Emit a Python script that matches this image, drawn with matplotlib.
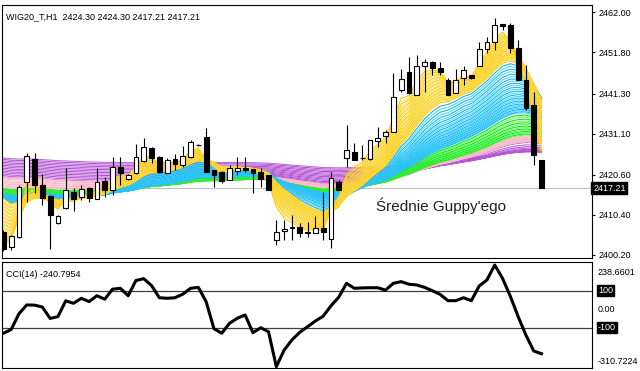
import numpy as np
import matplotlib.pyplot as plt
from matplotlib import font_manager

# WIG20_T H1 candles
opens = [2406.1, 2402.2, 2404.9, 2418.7, 2424.6, 2418.0, 2415.2, 2408.3, 2412.1, 2416.3,
         2414.9, 2417.2, 2414.5, 2419.0, 2416.8, 2422.7, 2419.5, 2421.2, 2424.2, 2427.5,
         2425.2, 2421.0, 2424.6, 2423.1, 2425.2, 2428.3, 2430.3, 2421.8, 2421.4, 2419.3,
         2421.7, 2422.4, 2422.0, 2421.4, 2420.6, 2404.0, 2406.4, 2407.1, 2407.3, 2406.0,
         2405.9, 2407.0, 2404.2, 2418.9, 2424.8, 2426.3, 2424.8, 2424.6, 2429.1, 2430.6,
         2431.6, 2442.2, 2446.9, 2440.9, 2448.2, 2449.4, 2447.7, 2444.8, 2441.5, 2445.2,
         2446.0, 2448.3, 2452.6, 2454.5, 2459.0, 2458.8, 2452.8, 2444.8, 2438.4, 2424.30]
highs = [2406.6, 2405.3, 2418.0, 2426.1, 2426.1, 2420.8, 2415.5, 2410.5, 2422.3, 2417.2,
         2418.0, 2417.4, 2422.4, 2420.1, 2425.1, 2425.1, 2420.8, 2428.5, 2429.9, 2427.6,
         2425.3, 2424.8, 2425.8, 2428.0, 2429.5, 2428.4, 2432.5, 2421.9, 2421.5, 2423.1,
         2425.2, 2425.2, 2422.1, 2422.3, 2420.6, 2409.1, 2409.1, 2410.4, 2408.3, 2408.7,
         2410.0, 2416.3, 2421.4, 2419.3, 2433.3, 2428.6, 2428.2, 2429.6, 2432.9, 2432.0,
         2446.5, 2447.5, 2450.7, 2451.1, 2450.0, 2449.5, 2449.4, 2445.3, 2447.5, 2448.2,
         2446.1, 2454.5, 2455.8, 2460.5, 2459.1, 2459.2, 2455.0, 2448.6, 2441.8, 2424.30]
lows = [2401.3, 2401.5, 2404.6, 2413.8, 2415.9, 2412.9, 2401.7, 2408.0, 2412.0, 2411.4,
        2414.2, 2413.8, 2414.4, 2415.0, 2415.5, 2418.0, 2419.3, 2420.8, 2424.0, 2423.7,
        2421.1, 2421.0, 2421.8, 2422.7, 2425.0, 2428.0, 2421.4, 2417.6, 2418.5, 2419.2,
        2420.6, 2421.4, 2415.9, 2417.6, 2416.7, 2402.7, 2404.0, 2404.0, 2404.9, 2404.9,
        2405.7, 2404.0, 2401.9, 2416.7, 2422.7, 2424.3, 2424.4, 2424.5, 2427.8, 2428.6,
        2431.5, 2441.8, 2441.3, 2440.9, 2441.8, 2446.0, 2446.0, 2440.9, 2441.4, 2443.5,
        2445.1, 2448.2, 2451.6, 2452.4, 2457.5, 2451.6, 2444.7, 2437.1, 2423.1, 2417.21]
closes = [2401.7, 2405.0, 2417.4, 2425.5, 2418.0, 2414.8, 2410.4, 2410.2, 2416.8, 2414.5,
          2417.0, 2414.8, 2418.7, 2416.8, 2422.7, 2421.0, 2420.6, 2425.1, 2427.8, 2425.0,
          2421.3, 2424.4, 2423.4, 2425.4, 2429.0, 2428.1, 2421.4, 2420.6, 2419.0, 2422.3,
          2422.4, 2421.8, 2421.2, 2419.6, 2416.8, 2406.1, 2406.7, 2407.2, 2405.9, 2405.8,
          2407.0, 2406.1, 2419.9, 2416.8, 2426.9, 2424.4, 2424.9, 2429.5, 2430.1, 2431.6,
          2440.4, 2445.0, 2441.4, 2448.2, 2449.4, 2447.7, 2446.7, 2440.9, 2444.8, 2447.3,
          2445.2, 2452.6, 2454.5, 2458.8, 2458.6, 2452.8, 2444.8, 2437.6, 2425.7, 2417.21]

# CCI(14)
cci = [-130, -110, -25, 23, 22, 12, -50, -40, 45, 32,
       59, 41, 73, 54, 108, 113, 73, 155, 165, 128,
       62, 59, 62, 81, 113, 118, 41, -105, -130, -76,
       -49, -31, -127, -100, -122, -310.72, -221, -166, -125, -95,
       -64, -38, 18, 65, 140, 113, 115, 116, 116, 103,
       140, 149, 135, 131, 118, 100, 80, 46, 46, 62,
       46, 125, 158, 238.66, 167, 70, -40, -140, -226, -240.80]

price_ticks = [2462.00, 2451.80, 2441.30, 2431.10, 2420.60, 2410.40, 2400.20]

# Guppy ribbons: EMA periods per colour group, EMA levels at the first bar
yellow_periods = np.arange(3, 12.1, 0.375)
blue_periods = np.arange(13, 41, 1)
green_periods = np.arange(42, 70, 2)
pink_periods = np.arange(70, 90, 2)
purple_periods = np.arange(90, 215, 9)
yellow_start = (2403.0, 2414.6)
blue_start = (2414.8, 2415.9)
green_start = (2415.9, 2417.2)
pink_start = (2417.2, 2420.0)
purple_start = (2420.1, 2424.9)


def ema(values, period, first):
    a = 2.0 / (period + 1)
    out = [first]
    for v in values[1:]:
        out.append(out[-1] + a * (v - out[-1]))
    return np.array(out)


# narrow label font, like the terminal's Tahoma
names = {f.name for f in font_manager.fontManager.ttflist}
if 'Liberation Sans Narrow' in names:
    lab_font, lab_size = 'Liberation Sans Narrow', 7.6
else:
    lab_font, lab_size = 'Liberation Sans', 6.5

fig = plt.figure(figsize=(6.4, 3.71), dpi=100)
W, H = 640, 371
ax = fig.add_axes([2 / W, (H - 258) / H, 590 / W, 253 / H])
ax2 = fig.add_axes([2 / W, (H - 368) / H, 590 / W, 106 / H])

x = np.arange(len(closes))

# ribbons, slowest first so the fast ones sit on top
groups = [(purple_periods, purple_start, ['#B04ED0', '#BE62DA']),
          (pink_periods, pink_start, ['#F8B2C2', '#FFC6D2']),
          (green_periods, green_start, ['#00E800', '#66F566']),
          (blue_periods, blue_start, ['#00B8F4', '#5AD0FF']),
          (yellow_periods, yellow_start, ['#FFC800', '#FFE46A'])]
for periods, (lo, hi), cols in groups:
    firsts = np.linspace(lo, hi, len(periods))
    for k in range(len(periods) - 1, -1, -1):
        ax.plot(x, ema(closes, periods[k], firsts[k]), color=cols[k % 2], lw=0.75, zorder=2)

ax.axhline(closes[-1], color='#C0C0C0', lw=0.8, zorder=1)

# candles
o = np.array(opens); c = np.array(closes)
up = c >= o
ax.vlines(x, lows, highs, color='black', lw=0.8, zorder=4)
ax.bar(x[up], (c - o)[up], bottom=o[up], width=0.62, color='white', edgecolor='black', lw=0.8, zorder=5)
ax.bar(x[~up], (o - c)[~up], bottom=c[~up], width=0.62, color='black', edgecolor='black', lw=0.8, zorder=5)

ax.set_xlim(-0.17, 75.47)
ax.set_ylim(2399.43, 2463.86)
ax.set_xticks([])
ax.yaxis.tick_right()
ax.set_yticks(price_ticks)
ax.set_yticklabels([f'{v:.2f}' for v in price_ticks], fontsize=lab_size, family=lab_font)
ax.tick_params(axis='y', length=2.5, width=0.8, pad=2)
ax.text(1.002, closes[-1], f'{closes[-1]:.2f}', transform=ax.get_yaxis_transform(), fontsize=lab_size,
        family=lab_font, color='white', va='center', ha='left',
        bbox=dict(boxstyle='square,pad=0.2', fc='black', ec='black'))
ax.text(47.74, 2411.48, "Średnie Guppy'ego", fontsize=11, family='Liberation Sans', color='#202020', va='baseline')
fig.text(6 / W, 1 - 19 / H, 'WIG20_T,H1  2424.30 2424.30 2417.21 2417.21', fontsize=lab_size,
         family=lab_font, va='baseline')

# CCI panel
ax2.plot(x, cci, color='black', lw=2.2, solid_joinstyle='round', zorder=3)
ax2.axhline(100, color='#404040', lw=0.9)
ax2.axhline(-100, color='#404040', lw=0.9)
ax2.set_xlim(-0.17, 75.47)
ax2.set_ylim(-317.8, 255.1)
ax2.set_xticks([])
ax2.set_yticks([])
lab = dict(transform=ax2.get_yaxis_transform(), fontsize=lab_size, family=lab_font, ha='left', va='center')
ax2.text(1.01, 200, '238.6601', **lab)
ax2.text(1.01, 0, '0.00', **lab)
ax2.text(1.01, -285, '-310.7224', **lab)
ax2.text(1.01, 100, '100', color='white', bbox=dict(boxstyle='square,pad=0.1', fc='black', ec='black'), **lab)
ax2.text(1.01, -100, '-100', color='white', bbox=dict(boxstyle='square,pad=0.1', fc='black', ec='black'), **lab)
ax2.text(0.0068, 0.86, 'CCI(14) -240.7954', transform=ax2.transAxes, fontsize=lab_size,
         family=lab_font, va='baseline')

for a in (ax, ax2):
    for s in a.spines.values():
        s.set_color('black')
        s.set_linewidth(0.8)

fig.savefig('out.png', dpi=100)
